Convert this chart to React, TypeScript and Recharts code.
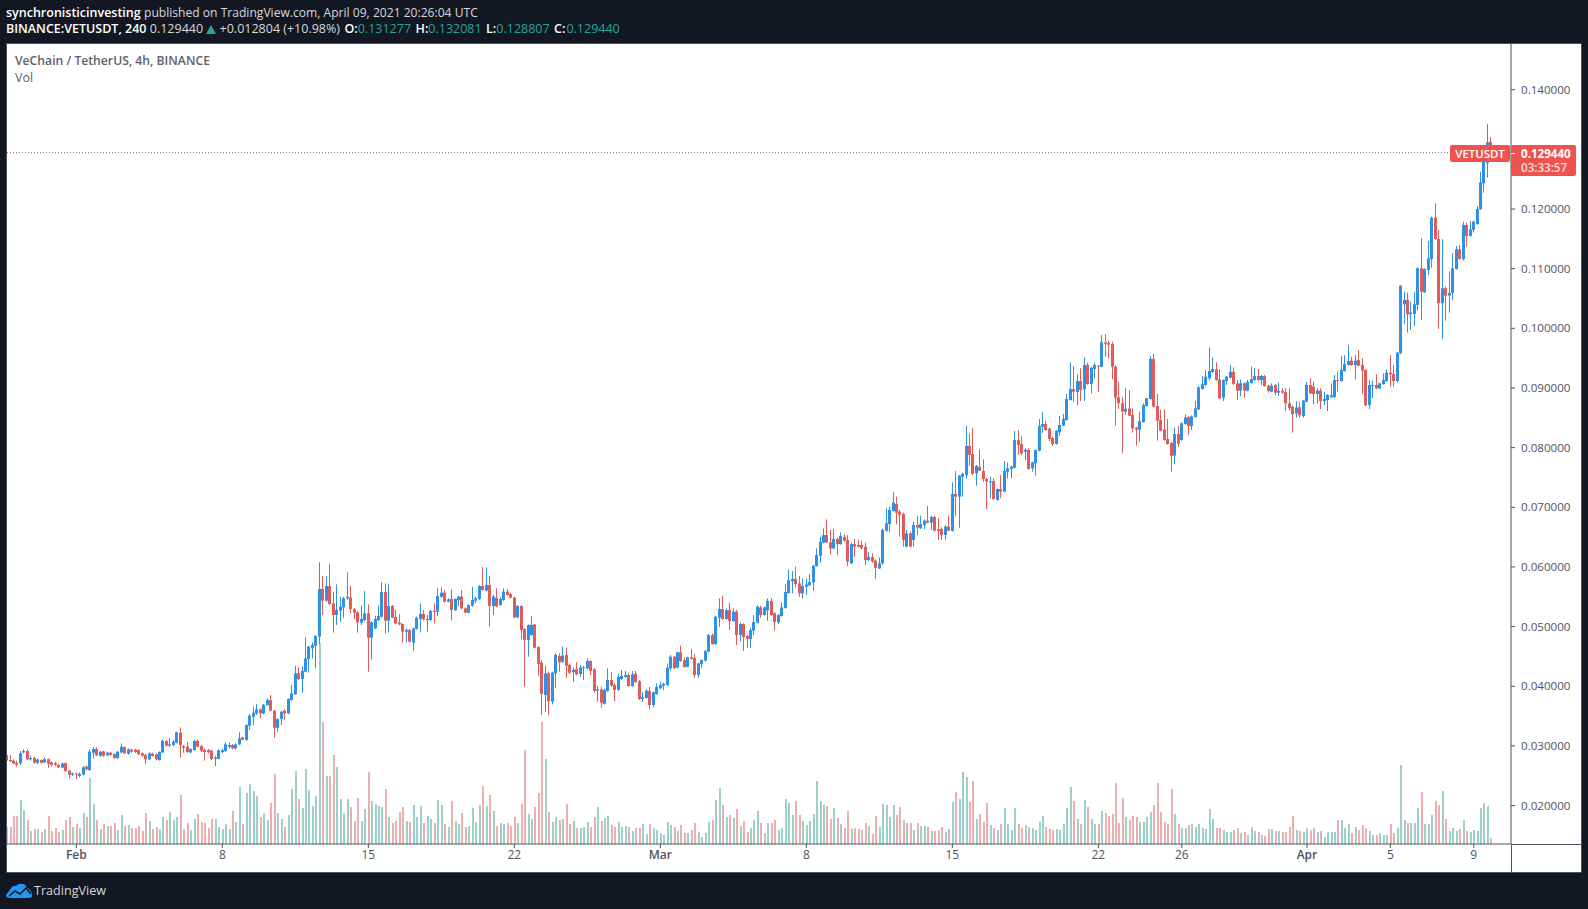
import React from "react";
import { ComposedChart, Bar, XAxis, YAxis, ReferenceLine } from "recharts";

// Prices are in thousandths of a USDT: [open, high, low, close]
const candlesJan = [
[28.47,28.64,27.35,27.52],[27.63,28.47,27.30,27.41],[27.52,27.74,26.96,27.07],[27.18,27.52,26.51,26.85],[27.07,29.13,26.79,28.75],
[28.91,29.41,28.75,29.13],[29.13,29.41,27.63,27.74],[27.74,28.36,27.52,27.96],[27.96,28.19,27.07,27.18],[27.18,27.85,26.96,27.68],
[27.63,27.74,27.01,27.18],[27.24,28.08,27.13,27.74],[27.74,27.85,26.34,27.01],[27.24,27.41,26.51,26.85],[27.07,27.30,26.62,26.79],
[26.79,26.96,26.29,26.40],[26.34,27.18,26.23,27.07],[27.13,27.18,25.67,25.78],[25.84,25.95,24.55,25.17],[25.17,25.50,24.95,25.39],
];
const candlesFeb = [
[25.39,25.50,24.39,25.22],[24.95,25.50,24.72,25.28],[25.17,26.62,25.06,26.40],[26.51,26.79,25.90,26.06],[25.95,29.41,25.84,29.02],
[28.86,29.80,27.91,29.47],[29.47,29.75,28.30,28.41],[28.36,29.13,28.19,29.02],[29.08,29.19,28.19,28.36],[28.41,29.02,28.30,28.86],
[28.86,29.02,28.30,28.52],[28.64,28.75,27.85,27.96],[27.96,29.13,27.85,29.02],[28.91,30.42,28.75,29.86],[29.80,29.92,28.64,28.75],
[28.69,29.58,28.52,29.41],[29.36,29.53,28.86,29.02],[29.36,29.53,28.80,28.97],[29.30,29.41,28.47,28.58],[28.75,28.91,28.19,28.36],
[28.47,28.64,26.90,27.74],[27.74,28.91,27.63,28.75],[28.69,28.86,28.19,28.30],[28.58,28.75,27.57,27.74],[27.63,29.08,27.52,28.97],
[28.91,31.04,28.80,30.87],[30.81,30.98,29.92,30.03],[30.03,31.26,29.86,30.25],[30.14,30.98,29.97,30.70],[30.53,32.38,30.42,32.27],
[32.21,33.10,28.02,30.14],[29.97,30.14,28.86,29.69],[29.86,30.64,28.86,28.97],[28.91,29.58,28.75,29.47],[29.30,30.98,29.19,30.81],
[30.81,31.09,29.75,29.86],[29.97,30.14,28.97,29.19],[29.36,29.53,27.52,28.97],[29.30,29.47,28.75,28.97],[29.19,29.41,27.63,27.80],
[27.80,28.30,26.62,28.02],[27.85,29.41,27.74,29.25],[28.97,29.53,28.75,29.30],[29.13,30.59,29.02,30.25],[29.86,30.59,29.58,30.14],
[30.14,30.31,29.41,29.58],[29.58,30.42,29.41,30.25],[30.25,32.27,30.14,31.26],[31.43,31.54,30.92,31.04],[30.98,33.60,30.87,33.49],
[33.38,35.34,32.66,35.06],[34.89,36.57,33.49,35.56],[35.45,37.01,35.17,36.12],[36.12,36.29,34.61,35.45],[35.45,37.01,35.28,36.90],
[36.85,37.96,36.73,37.68],[37.68,38.52,35.73,35.90],[35.90,36.01,31.37,33.04],[33.04,34.61,32.38,34.50],[34.50,35.90,33.49,35.73],
[35.90,36.12,34.33,35.45],[35.45,37.96,35.34,37.85],[37.69,40.2,37.58,38.81],[38.64,43.39,38.53,42.16],[42.16,43.17,41.04,41.21],
[41.21,43.28,38.92,42.55],[42.44,48.2,42.33,44.67],[44.56,46.8,42.27,46.63],[46.35,47.36,44.67,46.91],[46.8,48.58,43.0,48.42],
[48.31,60.77,47.08,56.3],[56.3,58.47,51.94,54.34],[54.34,58.47,54.17,56.8],[56.8,60.49,53.61,53.78],[53.89,55.85,48.98,51.94],
[51.94,57.08,50.26,52.78],[52.66,55.0,50.82,53.33],[53.22,55.0,51.49,54.73],[54.73,59.09,54.45,55.0],[54.9,56.85,52.22,52.94],
[52.94,53.17,51.27,52.33],[52.38,52.61,48.98,50.71],[50.65,53.5,50.26,51.27],[51.1,55.96,50.93,52.22],[52.22,53.72,42.44,48.14],
[48.14,50.93,44.5,50.71],[49.7,51.82,49.59,51.27],[51.1,53.5,50.93,51.77],[51.66,57.41,51.49,55.79],[55.79,57.24,48.86,51.0],
[51.0,57.08,49.03,53.45],[53.45,53.61,51.38,51.49],[51.6,52.78,50.37,50.54],[50.65,52.05,50.2,50.37],[50.43,50.54,47.3,49.14],
[49.14,49.7,47.3,49.42],[49.42,49.59,47.3,47.47],[47.3,49.81,45.96,49.7],[49.59,51.66,49.48,51.49],[51.27,53.89,49.03,52.11],
[52.11,52.78,51.04,51.21],[51.1,51.94,49.14,51.27],[51.1,52.78,50.93,52.61],[52.61,53.89,50.54,52.5],[52.5,56.52,51.77,55.12],
[55.01,56.52,54.84,55.68],[55.68,56.13,54.06,54.17],[54.17,54.73,54.06,54.56],[54.62,56.24,50.99,52.78],[52.72,54.73,52.61,54.62],
[54.45,55.18,53.45,55.01],[55.01,56.13,52.94,53.05],[53.05,53.22,52.22,52.33],[52.33,53.72,52.22,53.61],[53.5,56.69,53.33,54.45],
[54.34,55.0,53.89,54.73],[54.62,56.97,54.45,56.8],[56.8,59.93,56.02,56.13],[56.02,59.93,55.9,56.97],[56.97,58.47,49.98,53.45],
[53.45,55.29,51.94,55.01],[54.84,56.41,53.28,53.39],[53.61,55.0,53.5,54.62],[54.45,56.41,54.34,55.85],[55.85,56.3,55.18,55.29],
[55.46,55.68,54.73,54.84],[54.84,55.0,51.38,51.55],[51.55,53.56,51.38,53.45],[53.45,53.56,47.86,49.42],[49.59,49.7,39.92,47.75],
[47.75,50.37,44.95,50.26],[48.58,51.77,48.47,50.26],[50.37,50.48,46.35,46.46],[46.57,46.69,41.77,43.72],[43.95,44.39,35.18,38.7],
[38.53,43.39,35.74,42.16],[42.16,42.44,35.18,37.52],[37.41,42.44,36.96,42.27],[42.16,45.51,39.65,45.23],[45.07,45.51,42.44,44.0],
[44.1,46.63,43.9,45.12],[45.23,46.46,41.43,43.44],[43.55,43.83,42.05,42.27],[42.38,43.11,40.76,42.72],[42.88,44.0,41.82,41.99],
[42.05,43.55,41.6,43.16],[43.0,43.39,41.04,43.16],[43.0,44.67,42.88,44.22],[44.22,44.39,41.88,42.55],[42.83,43.0,38.92,39.2],
[39.25,40.03,37.41,39.48],[39.48,39.92,36.4,37.24],[37.02,39.59,36.91,39.36],[39.2,42.99,39.09,41.04],[41.04,42.33,39.92,40.09],
[40.2,40.48,37.52,39.36],[39.36,42.05,39.25,41.54],[41.21,42.72,41.04,41.71],[41.54,42.55,41.43,41.88],[41.88,42.16,39.92,40.03],
[40.03,42.55,39.92,41.99],[42.1,42.55,40.59,40.7],[40.82,41.04,37.69,37.86],[37.86,38.97,37.41,38.14],[38.02,39.48,37.91,39.25],
[39.2,39.87,36.18,36.85],[36.85,39.09,36.46,38.97],[38.69,40.48,38.58,39.87],
];
const candlesMar = [
[39.64,40.76,39.48,40.2],[40.09,40.59,39.36,40.43],[40.2,43.83,40.09,43.11],[43.0,45.23,42.61,44.95],[44.95,45.06,42.88,43.0],
[43.16,45.79,43.0,45.68],[45.68,46.8,44.11,44.22],[44.39,44.84,43.11,43.22],[43.27,44.95,43.16,44.84],[44.84,46.24,44.45,44.62],
[44.73,45.4,41.43,41.88],[41.88,43.94,41.43,43.83],[43.72,44.5,43.11,44.39],[44.28,46.07,44.17,45.9],[45.79,48.75,45.68,48.58],
[48.58,48.86,46.96,47.07],[47.07,51.82,46.96,51.66],[51.49,54.73,49.98,52.94],[52.94,55.12,51.15,51.26],[51.26,53.05,51.15,52.77],
[52.77,54.0,49.42,50.93],[50.93,53.05,50.82,52.49],[52.49,52.77,46.91,48.58],[48.58,50.65,47.47,50.43],[50.43,50.54,45.9,48.25],
[48.42,48.58,46.46,47.97],[47.91,49.81,46.46,49.42],[49.31,51.93,48.58,50.76],[50.65,53.61,50.54,53.33],[53.22,53.5,51.49,51.93],
[51.93,53.33,51.82,53.22],[52.72,54.73,50.98,54.28],[54.28,54.73,51.82,51.93],[52.22,52.38,49.31,50.76],[50.71,52.1,50.43,51.93],
[51.77,54.0,51.66,53.22],[53.11,57.13,53.0,55.79],[55.62,59.59,55.51,57.8],[57.63,59.31,55.57,57.97],[57.97,60.04,56.57,57.13],
[57.24,58.47,55.01,55.57],[55.57,58.08,54.73,56.8],[56.68,58.08,55.29,57.07],[56.91,58.81,56.8,57.47],[57.41,60.32,55.96,60.2],
[60.15,63.11,60.04,61.99],[61.88,65.06,60.71,64.23],[64.06,66.46,63.95,65.34],[65.34,67.97,64.0,64.11],[64.11,66.18,62.1,63.11],
[63.11,66.35,63.0,64.67],[64.67,64.9,61.99,63.83],[63.83,65.79,63.72,65.18],[65.06,65.46,64.28,64.39],[64.5,65.34,60.15,60.87],
[60.59,64.06,60.48,63.83],[63.83,64.67,61.71,63.39],[63.67,64.5,63.22,63.39],[63.67,64.39,62.94,63.11],[63.39,64.06,60.32,61.15],
[61.15,62.44,60.99,61.66],[61.66,62.27,60.71,60.87],[61.04,61.27,57.97,59.81],[59.76,61.6,59.65,60.6],[60.6,66.4,60.4,66.19],
[66.08,69.93,65.91,67.31],[67.2,70.1,65.8,69.54],[69.38,72.51,69.26,70.77],[70.55,71.78,67.14,69.1],[69.26,69.54,65.07,68.71],
[68.87,69.1,63.4,64.52],[63.4,66.19,63.29,65.63],[65.63,65.86,63.29,63.4],[64.52,67.59,63.4,67.03],[67.03,68.54,65.35,66.58],
[66.47,68.59,66.36,67.2],[67.03,67.98,66.3,67.76],[67.76,70.21,67.31,67.42],[67.42,68.54,66.19,68.37],[68.37,68.59,65.97,66.08],
[66.3,68.15,64.52,66.03],[66.36,66.64,64.52,65.35],[65.35,67.03,64.52,66.75],[66.75,68.54,65.97,66.08],[66.03,74.18,65.91,72.23],
[72.23,76.08,68.54,71.78],[71.78,75.41,66.58,75.3],[75.13,75.8,71.78,75.58],[75.41,83.62,74.85,80.27],[80.27,82.39,76.97,78.76],
[78.93,83.29,75.47,75.58],[75.69,77.09,73.62,76.92],[76.75,79.71,76.03,76.14],[76.08,78.04,74.29,74.74],[74.74,74.91,69.71,74.29],
[74.18,75.13,71.5,74.35],[74.41,74.85,71.28,71.39],[71.22,73.17,71.11,73.06],[73.06,75.41,71.5,72.62],[72.62,77.76,72.51,76.08],
[75.97,77.48,74.85,76.53],[76.42,76.97,74.85,76.81],[76.64,82.79,76.53,81.28],[81.28,82.95,78.76,80.44],[80.61,81.95,78.76,79.04],
[79.32,79.88,77.92,79.66],[79.6,79.88,76.3,76.42],[76.53,77.64,75.97,77.53],[77.36,79.71,75.3,79.6],[79.49,84.8,79.38,83.62],
[83.51,85.91,82.5,83.96],[83.96,84.46,82.84,82.95],[83.18,83.34,81.11,81.44],[81.61,81.83,80.27,80.61],[80.61,82.95,80.5,82.79],
[82.56,85.3,82.0,83.79],[83.68,85.63,83.57,84.8],[84.63,88.99,84.52,88.15],[87.98,94.29,87.87,89.82],[89.82,93.68,87.7,89.38],
[89.32,92.28,87.14,91.17],[91.17,93.29,87.81,89.66],[89.77,95.13,87.81,93.85],[93.85,94.24,90.55,90.66],[90.66,93.57,89.1,93.4],
[93.18,94.24,91.61,93.85],[93.74,93.85,89.38,93.57],[93.57,98.88,93.46,97.65],[97.65,99.04,95.24,97.42],[97.53,97.93,94.96,97.26],
[97.37,97.76,91.44,93.57],[93.57,93.74,83.68,88.37],[88.43,91.05,86.47,87.42],[87.42,88.43,79.04,86.03],[86.03,89.94,85.47,86.53],
[86.58,89.66,85.24,85.35],[85.47,86.58,82.51,83.23],[83.34,83.51,80.33,83.01],[83.01,86.03,81.0,84.46],[84.29,87.42,84.18,87.14],
[86.98,88.37,86.86,88.26],[88.15,95.36,88.04,94.85],[94.85,95.69,86.75,86.86],[86.98,88.99,81.17,84.52],[84.63,86.3,82.73,82.84],
[83.06,86.47,81.17,81.28],[81.44,84.8,80.5,80.61],[80.77,80.94,75.97,78.65],[78.65,83.4,77.2,82.28],[82.28,83.62,80.16,80.66],
[81.28,84.24,81.17,84.07],[83.96,85.58,83.85,85.08],[85.08,85.3,82.12,83.62],[83.62,85.41,82.95,85.24],[85.13,87.81,85.02,86.58],
[86.42,90.33,86.3,90.1],[89.82,92.0,89.71,90.61],[90.5,93.01,90.38,91.89],[91.61,96.81,91.33,92.84],[92.67,95.13,92.56,93.18],
[93.12,94.29,91.22,91.33],[91.44,93.18,88.15,88.26],[88.37,91.44,87.81,91.33],[91.17,92.0,90.5,91.89],[91.72,93.85,91.61,92.73],
[92.73,93.46,90.55,90.66],[90.77,91.33,87.98,89.55],[89.55,91.44,88.65,90.77],[90.77,90.94,88.37,89.55],[89.55,91.33,89.43,91.0],
[90.83,93.57,90.72,91.5],[91.33,93.29,91.22,92.0],[92.0,93.18,91.22,91.33],[91.33,92.17,90.5,92.0],[92.0,92.17,90.22,90.33],
[90.38,90.55,89.21,89.49],[89.38,90.77,89.27,90.38],[90.5,90.66,88.82,89.21],[89.21,90.89,88.65,89.49],[89.49,89.94,89.04,89.21],
[89.32,89.94,86.19,87.42],[87.42,89.94,86.19,86.64],[86.86,87.03,82.51,85.58],[85.75,87.81,85.02,86.75],[86.75,87.7,85.02,85.41],
[85.3,87.98,85.02,87.87],
];
const candlesApr = [
[87.7,90.99,87.59,90.5],[90.5,91.61,88.99,89.1],[90.22,91.05,87.26,88.99],[88.99,89.94,87.42,89.55],[89.55,89.94,86.47,87.81],
[87.81,89.38,87.14,88.15],[87.98,88.99,86.14,88.82],[88.43,90.77,88.32,88.76],[88.48,92.17,88.37,91.33],[91.33,92.73,89.38,91.17],
[91.17,95.36,91.05,93.01],[92.84,95.52,92.73,94.02],[93.85,97.2,93.74,94.52],[94.57,95.24,93.74,93.85],[93.85,95.52,91.44,94.57],
[94.68,96.36,93.62,93.74],[93.85,94.96,88.99,92.9],[93.01,93.12,86.97,87.09],[87.14,91.33,86.47,90.5],[90.38,91.22,88.26,90.5],
[90.5,92.28,89.82,89.94],[89.94,90.89,89.82,90.77],[90.66,92.45,90.55,91.33],[91.17,93.12,91.05,92.56],[92.56,95.52,90.22,92.28],
[92.34,93.85,90.22,91.17],[91.17,96.08,90.89,95.91],[95.8,107.2,95.7,107.16],[104.03,106.15,100.73,104.75],[104.75,105.98,99.28,102.35],
[102.35,104.47,99.73,102.63],[102.41,106.15,100.4,104.03],[103.92,110.23,102.97,110.06],[110.06,115.09,101.4,106.15],[106.04,110.06,105.93,109.95],
[109.78,114.64,108.94,111.74],[111.63,118.72,110.17,118.55],[118.55,120.96,114.87,114.98],[114.98,116.49,99.89,104.2],[104.2,114.92,98.22,106.71],
[106.71,107.0,101.29,105.48],[105.48,109.5,102.63,105.93],[105.93,112.58,104.75,110.06],[109.95,113.8,109.84,113.25],[113.25,113.97,111.51,111.63],
[111.63,117.88,111.35,117.32],[117.32,117.72,113.69,115.48],[115.48,118.0,115.37,116.6],[116.49,118.05,116.04,117.88],[117.49,120.51,117.38,120.01],
[119.95,126.26,119.84,124.48],[124.31,128.2,122.74,127.94],[127.66,134.25,125.26,131.18],[131.277,132.081,128.807,129.44],
];

// Volume per candle, in arbitrary units
const volumesJan = [17,17,28,28,44,34,24,13,15,15,12,15,28,13,16,12,14,24,27,17];
const volumesFeb = [
20,16,31,27,66,40,24,15,20,18,18,21,14,29,18,19,16,16,18,13,
31,23,15,17,15,27,24,32,24,27,49,15,21,14,25,30,22,21,16,25,
25,17,15,20,15,33,22,57,20,51,60,53,48,27,31,24,41,70,31,25,
17,29,55,73,45,36,75,54,38,48,201,122,68,68,89,77,45,31,45,37,
23,46,23,35,72,43,40,38,37,55,27,21,23,32,37,23,22,39,27,38,
21,28,25,21,44,39,20,17,43,23,20,31,17,18,36,22,39,58,38,49,
33,18,21,20,21,18,27,21,40,94,30,25,37,51,122,85,32,22,27,24,
25,40,20,23,16,16,17,22,17,27,37,23,26,28,19,17,22,17,18,17,
13,16,16,20,10,20,16,14,
];
const volumesMar = [
11,9,22,19,17,13,19,11,11,14,21,12,7,11,22,24,44,56,39,27,
29,26,35,18,23,12,16,24,33,21,11,21,21,24,14,16,45,41,29,43,
29,23,19,23,30,63,43,39,38,25,36,26,20,16,33,15,16,15,14,21,
18,10,28,17,40,39,27,39,29,37,24,21,21,14,21,18,18,17,13,13,
14,17,12,15,42,52,45,72,67,42,63,25,30,22,41,19,16,14,20,36,
20,14,36,20,16,19,17,16,14,22,28,17,15,14,15,14,20,36,57,43,
25,20,44,37,25,20,20,33,31,28,30,61,21,46,27,24,28,27,22,22,
27,32,39,61,32,22,20,55,30,20,16,16,19,20,17,20,16,15,35,25,
16,16,14,12,12,14,16,11,12,9,17,13,12,9,8,15,15,13,13,12,
12,17,28,14,13,12,
];
const volumesApr = [
16,14,16,12,13,7,12,12,12,24,24,16,20,11,17,14,19,16,13,9,
9,11,9,9,20,11,16,79,24,21,21,21,36,52,20,20,29,43,39,53,
25,13,16,13,15,24,13,12,14,13,36,41,38,6,
];

// 0.130000 sits behind the last-price label in the reference, so it has no tick here
const priceTicks = [20,30,40,50,60,70,80,90,100,110,120,140];
const timeTickIndexes = [20,62,104,146,188,230,272,314,338,374,398,422];
const timeTickLabels = ["Feb","8","15","22","Mar","8","15","22","26","Apr","5","9"];
const monthLabels = ["Feb","Mar","Apr"];
const lastPrice = 129.44;

const candles = [...candlesJan, ...candlesFeb, ...candlesMar, ...candlesApr];
const volumes = [...volumesJan, ...volumesFeb, ...volumesMar, ...volumesApr];
const data = candles.map(([open, high, low, close], i) => ({
  i, open, high, low, close, range: [low, high], volume: volumes[i],
}));

const UP = "#2e90e6";
const DOWN = "#e25b5b";
const VOL_UP = "#9dd0cb";
const VOL_DOWN = "#ecaeae";
const TEXT = "#50535e";
const LINE = "#50535e";
const FONT = "'Open Sans', sans-serif";

function Candle(props: any) {
  const { x, y, width, height, payload } = props;
  const { open, high, low, close } = payload;
  const k = height / (high - low);
  const cx = Math.round(x + width / 2 - 0.5);
  const top = y + (high - Math.max(open, close)) * k;
  const bodyH = Math.max(1, Math.abs(open - close) * k);
  const color = close >= open ? UP : DOWN;
  return (
    <g>
      <rect x={cx} y={y} width={1} height={height} fill={color} />
      <rect x={cx - 1} y={top} width={3} height={bodyH} fill={color} />
    </g>
  );
}

function VolumeBar(props: any) {
  const { x, y, width, height, payload } = props;
  return (
    <rect
      x={Math.round(x + width / 2 - 1)}
      y={y}
      width={2}
      height={height}
      fill={payload.close >= payload.open ? VOL_UP : VOL_DOWN}
    />
  );
}

function TimeTick(props: any) {
  const { x, y, index } = props;
  const label = timeTickLabels[index];
  const month = monthLabels.includes(label);
  return (
    <text x={x} y={y + 9} textAnchor="middle" fontFamily={FONT} fontSize={12}
      fontWeight={month ? 600 : 400} fill={TEXT}>{label}</text>
  );
}

const abs = (left: number, top: number, width: number, height: number, extra: any = {}) => ({
  position: "absolute", left, top, width, height, ...extra,
});

const strong = { color: "#fff", fontWeight: 600 };
const teal = { color: "#26a69a" };
const group = { ...strong, marginLeft: 1.2 };

export default function App() {
  return (
    <div style={{ position: "absolute", left: 0, top: 0, width: 1588, height: 909, background: "#131722", overflow: "hidden", fontFamily: FONT }}>
      <div style={{ position: "absolute", left: 6, top: 4, fontSize: 12.5, color: "#d6d8de", whiteSpace: "nowrap" }}>
        <b style={strong}>synchronisticinvesting</b> <span style={{ fontSize: 12.1 }}>published on TradingView.com, April 09, 2021 20:26:04 UTC</span>
      </div>
      <div style={{ position: "absolute", left: 6, top: 20, fontSize: 12.5, color: "#d6d8de", whiteSpace: "nowrap" }}>
        <b style={strong}>BINANCE:VETUSDT, 240</b> 0.129440{" "}
        <svg width={10} height={9} viewBox="0 0 10 9" style={{ verticalAlign: "-0.5px" }}><path d="M5 0 L10 9 L0 9 Z" fill="#26a69a" /></svg>{" "}
        +0.012804 (+10.98%){" "}
        <b style={group}>O:</b><span style={teal}>0.131277</span>{" "}
        <b style={group}>H:</b><span style={teal}>0.132081</span>{" "}
        <b style={group}>L:</b><span style={teal}>0.128807</span>{" "}
        <b style={{ ...group, marginRight: 1 }}>C:</b><span style={teal}>0.129440</span>
      </div>

      <div style={abs(6, 43, 1576, 830, { background: "#fff", boxSizing: "border-box", border: "1px solid #50535e" }) as any} />

      <div style={{ position: "absolute", left: 7, top: 43 }}>
        <ComposedChart width={1574} height={829} data={data} margin={{ top: 0, right: 0, bottom: 0, left: 0 }}>
          <XAxis xAxisId="price" dataKey="i" type="number" domain={[0.06, 432.7]} allowDataOverflow
            ticks={timeTickIndexes} interval={0} height={28} tickSize={4}
            axisLine={{ stroke: LINE }} tickLine={{ stroke: LINE }} tick={<TimeTick />} />
          <XAxis xAxisId="vol" dataKey="i" type="number" domain={[0.06, 432.7]} allowDataOverflow hide />
          <YAxis yAxisId="price" orientation="right" width={70} domain={[13.55, 147.83]} allowDataOverflow
            ticks={priceTicks} interval={0} tickSize={4} tickMargin={6}
            axisLine={{ stroke: LINE }} tickLine={{ stroke: LINE }}
            tick={{ fill: TEXT, fontSize: 11.6, fontFamily: FONT }}
            tickFormatter={(v: number) => (v / 1000).toFixed(6)} />
          <YAxis yAxisId="vol" hide domain={[0, 801]} allowDataOverflow />
          <Bar xAxisId="vol" yAxisId="vol" dataKey="volume" barSize={2} shape={<VolumeBar />} isAnimationActive={false} />
          <Bar xAxisId="price" yAxisId="price" dataKey="range" barSize={3} shape={<Candle />} isAnimationActive={false} />
          <ReferenceLine xAxisId="price" yAxisId="price" y={lastPrice} stroke="#9c5a58" strokeDasharray="1 2" />
        </ComposedChart>
      </div>

      <div style={abs(1511, 844, 1, 28, { background: LINE }) as any} />
      <div style={abs(1511, 844, 70, 1, { background: LINE }) as any} />

      <div style={{ position: "absolute", left: 15, top: 52, fontSize: 12.2, fontWeight: 600, color: "#5d606b", whiteSpace: "nowrap" }}>VeChain / TetherUS, 4h, BINANCE</div>
      <div style={{ position: "absolute", left: 15, top: 69, fontSize: 12.5, color: "#5d606b" }}>Vol</div>

      <div style={abs(1450, 145, 60, 17, { background: "#ef5350", borderRadius: 2, color: "#fff", fontSize: 11.4, fontWeight: 600, textAlign: "center", lineHeight: "17px" }) as any}>VETUSDT</div>
      <div style={abs(1511, 145, 65, 31, { background: "#ef5350", borderRadius: 2, fontSize: 11.6, textAlign: "left", lineHeight: "14px", paddingLeft: 10, boxSizing: "border-box" }) as any}>
        <div style={{ color: "#fff", fontWeight: 700, marginTop: 2 }}>0.129440</div>
        <div style={{ color: "#fcdcdb", fontWeight: 600 }}>03:33:57</div>
      </div>
      <div style={abs(1511, 153, 4, 1, { background: "#fff" }) as any} />

      <svg style={{ position: "absolute", left: 6, top: 883 }} width={27} height={16} viewBox="0 0 27 16">
        <path d="M0 12 L6 4 Q8 2 10 3 Q13 0 16 1 Q20 1 21 5 Q25 6 26 11 Q27 15 23 15 L4 15 Q0 15 0 12 Z" fill="#2196f3" />
        <path d="M3 13 L9 8 L14 11 L20 5 L25 11" fill="none" stroke="#131722" strokeWidth={1.6} />
      </svg>
      <div style={{ position: "absolute", left: 34, top: 882, fontSize: 12.6, color: "#d6d8de" }}>TradingView</div>
    </div>
  );
}
